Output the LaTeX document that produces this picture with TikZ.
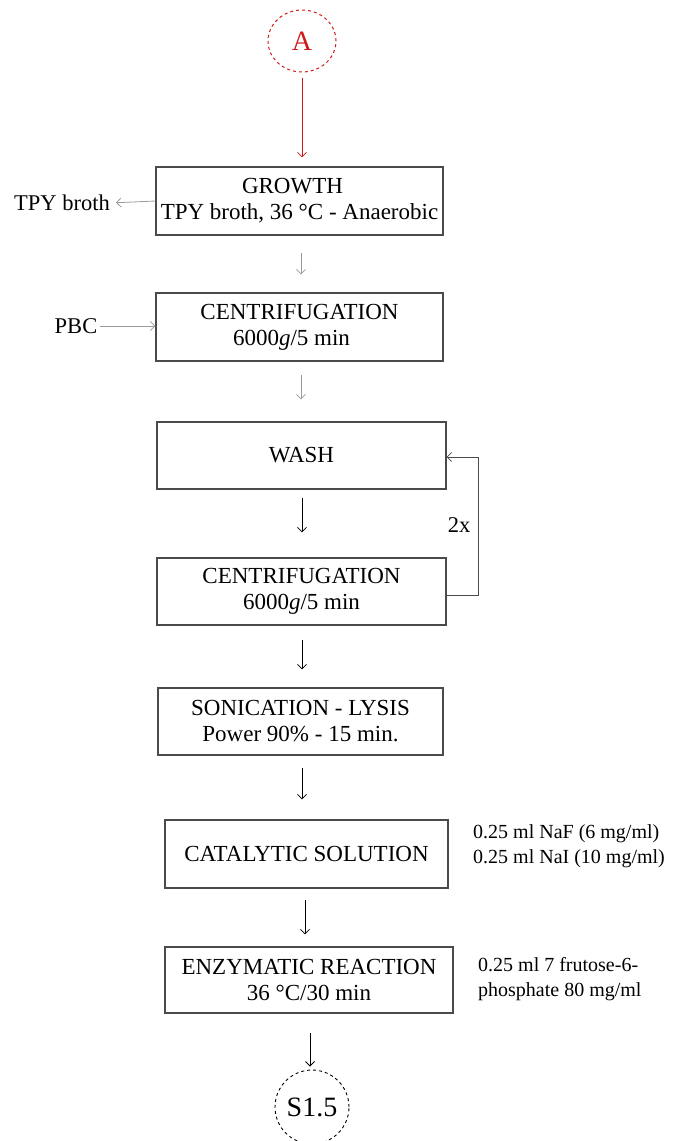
\documentclass[tikz,border=0pt]{standalone}
\usepackage{fontspec}
\setmainfont{Liberation Serif}
\newfontfamily\tnr{Liberation Serif}
\usetikzlibrary{arrows.meta,shapes.geometric}
\definecolor{boxline}{HTML}{4A4A4A}
\definecolor{lightarr}{HTML}{9A9A9A}
\definecolor{darkred}{HTML}{CC1A1A}
\tikzset{
  procbox/.style={draw=boxline, line width=1.2pt, rectangle, align=center, inner sep=0pt,
    font=\tnr\fontsize{23}{26}\selectfont},
  sidetext/.style={font=\tnr\fontsize{22.5}{26}\selectfont, inner sep=0pt},
  notetext/.style={font=\tnr\fontsize{20}{25}\selectfont, align=left, anchor=west, inner sep=0pt},
  arr/.style={draw=black, line width=0.8pt, -{Straight Barb[length=4.5pt,width=9pt]}},
  lightarrow/.style={arr, draw=lightarr},
}
\begin{document}
\begin{tikzpicture}[x=1pt,y=-1pt]
\useasboundingbox (0,0) rectangle (690,1141);

% start circle
\node[draw=darkred, dashed, line width=1pt, ellipse, minimum width=68pt, minimum height=62pt,
      text=darkred, font=\tnr\fontsize{28}{30}\selectfont, inner sep=0pt] (A) at (302,41) {A};

% boxes
\node[procbox, minimum width=287pt, minimum height=68pt] (growth) at (299.5,201)
  {\hspace*{-14pt}GROWTH\\TPY broth, 36 °C - Anaerobic};
\node[procbox, minimum width=287pt, minimum height=68pt] (cent1) at (299.5,327)
  {CENTRIFUGATION\\\hspace*{-16pt}6000\textit{g}/5 min};
\node[procbox, minimum width=289pt, minimum height=67pt] (wash) at (301.5,455.5) {WASH};
\node[procbox, minimum width=289pt, minimum height=67pt] (cent2) at (301.5,591.5)
  {CENTRIFUGATION\\6000\textit{g}/5 min};
\node[procbox, minimum width=285pt, minimum height=67pt] (sonic) at (300.5,721.5)
  {SONICATION - LYSIS\\Power 90\% - 15 min.};
\node[procbox, minimum width=283pt, minimum height=68pt] (cat) at (306.5,854)
  {CATALYTIC SOLUTION};
\node[procbox, minimum width=288pt, minimum height=66pt] (enz) at (309,980)
  {ENZYMATIC REACTION\\36 °C/30 min};

% end circle
\node[draw=black, dashed, line width=0.9pt, circle, minimum size=74pt,
      font=\tnr\fontsize{28}{30}\selectfont, inner sep=0pt] (S) at (312,1107) {S1.5};

% side texts
\node[sidetext] (tpy) at (62,203) {TPY broth};
\node[sidetext] (pbc) at (76,326) {PBC};
\node[notetext] (catnote) at (473,846) {0.25 ml NaF (6 mg/ml)\\0.25 ml NaI (10 mg/ml)};
\node[notetext] (enznote) at (478,979) {0.25 ml 7 frutose-6-\\phosphate 80 mg/ml};

% connectors
\draw[arr, draw=darkred, shorten <=5pt, shorten >=9pt] (A.south) -- (A.south |- growth.north);
\draw[arr, draw=lightarr, shorten >=6pt] (growth.west) -- (tpy.east);
\draw[arr, draw=lightarr, shorten <=3pt] (pbc.east) -- (pbc.east -| cent1.west);
\draw[lightarrow, shorten <=18pt, shorten >=18pt] (301,235) coordinate (g1) -- (g1 |- cent1.north);
\draw[lightarrow, shorten <=14pt, shorten >=22pt] (301,361) coordinate (c1) -- (c1 |- wash.north);
\draw[arr, shorten <=9pt, shorten >=25pt] (302,489) coordinate (w1) -- (w1 |- cent2.north);
\draw[arr, shorten <=15pt, shorten >=18pt] (302,625) coordinate (c2) -- (c2 |- sonic.north);
\draw[arr, shorten <=13pt, shorten >=20pt] (302,755) coordinate (s1) -- (s1 |- cat.north);
\draw[arr, shorten <=12pt, shorten >=12pt] (305,888) coordinate (k1) -- (k1 |- enz.north);
\draw[arr, shorten <=20pt, shorten >=3pt] (310,1013) coordinate (e1) -- (e1 |- S.north);

% loop back
\coordinate (loopA) at (478,595);
\coordinate (loopB) at (478,457);
\draw[arr, draw=boxline] (cent2.east |- loopA) -- (loopA) -- (loopB) -- (loopB -| wash.east);
\node[sidetext] (twox) at (459,525) {2x};
\end{tikzpicture}
\end{document}
